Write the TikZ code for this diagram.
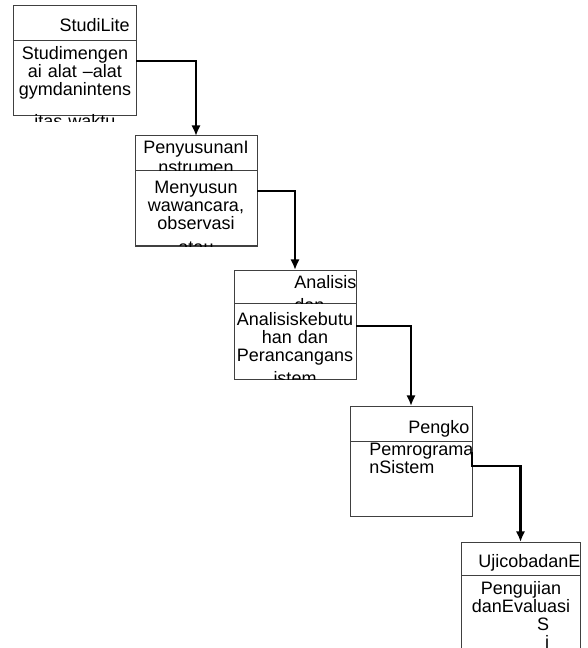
\documentclass[tikz,border=0pt]{standalone}
\usepackage{fontspec}
\setmainfont{Liberation Sans}
\usetikzlibrary{arrows.meta,calc,positioning}
\tikzset{
    %Define standard arrow tip
    >={Latex[length=8pt,width=7pt]},
    %Define style for boxes
    head/.style={
           rectangle,
           draw=black!75, line width=0.75pt,
           outer sep=0pt, inner sep=0pt,
           anchor=north west,
           minimum width=91.5pt,
           minimum height=26.25pt},
    body/.style={
           head,
           minimum height=56.25pt},
    txt/.style={
           inner sep=0pt,
           font=\fontsize{13.5}{13.5}\selectfont},
    % Define arrow style
    flow/.style={
           ->,
           line width=2pt}
}
\begin{document}
\begin{tikzpicture}[x=0.75pt,y=-0.75pt]
\useasboundingbox (0,0) rectangle (587,648);
 %boxes
\node[head, minimum width=92.25pt] (h1) at (13,6) {};
\node[body, minimum width=92.25pt, below=0pt of h1] (b1) {};
\node[head] (h2) at (135,136) {};
\node[body, below=0pt of h2] (b2) {};
\node[head, minimum height=24.75pt] (h3) at (234,270) {};
\node[body, minimum height=57pt, below=0pt of h3] (b3) {};
\node[head] (h4) at (350,406) {};
\node[body, below=0pt of h4] (b4) {};
\node[head, minimum width=89.25pt, minimum height=24.75pt] (h5) at (461,542) {};
\node[body, minimum width=89.25pt, minimum height=80pt, below=0pt of h5] (b5) {};
 %texts
\begin{scope}
\clip (h1.north west) rectangle (h1.south east);
\node[txt, anchor=base east] (h1t) at (130,32) {StudiLite};
\end{scope}
\begin{scope}
\clip (b1.north west) rectangle ($(b1.south east)+(0,6)$);
\node[txt, anchor=base, align=center, text width=100pt] (b1t) at (75,60)
  {Studimengen\\ai alat –alat\\gymdanintens\\[10pt]itas waktu};
\end{scope}
\begin{scope}
\clip (h2.north west) rectangle (h2.south east);
\node[txt, anchor=base, align=center, text width=100pt] (h2t) at (196,154)
  {PenyusunanI\\[1pt]nstrumen};
\end{scope}
\begin{scope}
\clip (b2.north west) rectangle (b2.south east);
\node[txt, anchor=base, align=center, text width=100pt] (b2t) at (196,194)
  {Menyusun\\wawancara,\\observasi\\[4pt]atau};
\end{scope}
\begin{scope}
\clip (h3.north west) rectangle (h3.south east);
\node[txt, anchor=base west, align=left, text width=80pt] (h3t) at (294,288)
  {Analisis\\[4pt]dan};
\end{scope}
\begin{scope}
\clip (b3.north west) rectangle (b3.south east);
\node[txt, anchor=base, align=center, text width=100pt] (b3t) at (295,325)
  {Analisiskebutu\\han dan\\Perancangans\\[4pt]istem};
\end{scope}
\begin{scope}
\clip (h4.north west) rectangle (h4.south east);
\node[txt, anchor=base west] (h4t) at (408,433) {Pengko};
\end{scope}
\begin{scope}
\clip (b4.north west) rectangle (b4.south east);
\node[txt, anchor=base west, align=left, text width=80pt] (b4t) at (369,455)
  {Pemrograma\\nSistem};
\end{scope}
\begin{scope}
\clip (h5.north west) rectangle (h5.south east);
\node[txt, anchor=base west] (h5t) at (478,567) {UjicobadanE};
\end{scope}
\begin{scope}
\clip (b5.north west) rectangle (b5.south east);
\node[txt, anchor=base, align=center, text width=100pt] (b5t) at (521,594)
  {Pengujian\\danEvaluasi\\\hspace*{33pt}S\\\hspace*{39pt}i};
\end{scope}
 %arrows
\draw[flow] ($(b1.north east)+(0,20)$) -| (h2.north);
\draw[flow] ($(b2.north east)+(0,20)$) -| (h3.north);
\draw[flow] ($(b3.north east)+(0,23)$) -| (h4.north);
\draw[flow] ($(b4.north east)+(0,11)$) -- ++(0,14) -| (h5.north);
\end{tikzpicture}
\end{document}
